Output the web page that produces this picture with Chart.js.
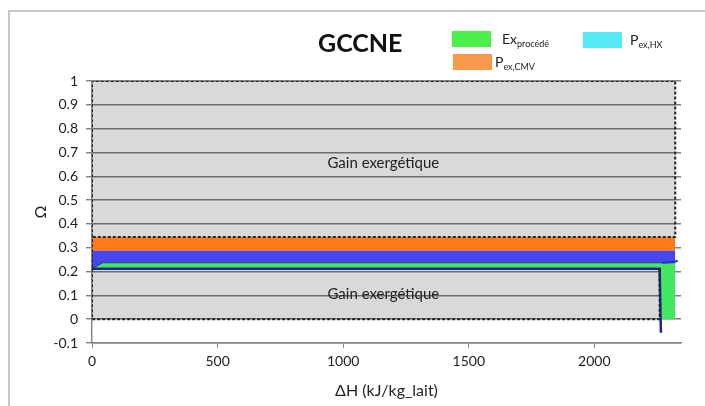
<!DOCTYPE html>
<html>
<head>
<meta charset="utf-8">
<script src="https://cdn.jsdelivr.net/npm/chart.js@4/dist/chart.umd.min.js"></script>
<style>
    body { margin: 0; width: 705px; height: 406px; overflow: hidden; background: #fff; position: relative; font-family: Lato, sans-serif; }
    #frame { position: absolute; left: 8px; top: 10px; width: 720px; height: 420px; border: 2px solid #c8c8c8; }
    #chart { position: absolute; left: 0; top: 0; }
    #title { position: absolute; left: 318px; top: 30px; font-size: 25px; line-height: 25px; font-weight: bold; color: #111; }
    .swatch { position: absolute; width: 39px; height: 16px; }
    .lg { position: absolute; font-size: 14px; line-height: 14px; color: #222; white-space: nowrap; }
    .lg sub { font-size: 9px; vertical-align: -3px; }
</style>
</head>
<body>
<div id="frame"></div>
<canvas id="chart" width="705" height="406"></canvas>
<div id="title">GCCNE</div>
<div id="legend"></div>
<script>
// axis ticks
const xTicks = [0, 500, 1000, 1500, 2000];
const yTicks = [-0.1, 0, 0.1, 0.2, 0.3, 0.4, 0.5, 0.6, 0.7, 0.8, 0.9, 1];

// lower edge of the Ex procédé band (the dark line, then down to 0 on the right)
const exBaseX = [0, 2260, 2262, 2322];
const exBaseY = [0.212, 0.212, 0, 0];
// Ex procédé (top edge)
const exTopX = [0, 43, 2322];
const exTopY = [0.212, 0.237, 0.237];
// P ex,HX (top edge)
const hxX = [0, 2322];
const hxY = [0.287, 0.287];
// P ex,CMV (top edge)
const cmvX = [0, 2322];
const cmvY = [0.345, 0.345];
// dark process line
const lineX = [0, 2260, 2265];
const lineY = [0.212, 0.212, -0.057];
// small blue tail on the right
const tailX = [2270, 2300, 2322, 2332];
const tailY = [0.237, 0.239, 0.242, 0.245];
// "Gain exergétique" box
const gainX = [0, 2322];
const gainY = [1, 1];
const boxX = [2260, 2260, 0, 0, 2322, 2322, 0];
const boxY = [0.212, 0, 0, 1, 1, 0.345, 0.345];

const gainLabels = ['Gain exergétique', 'Gain exergétique'];
const gainLabelX = [1160, 1160];
const gainLabelY = [0.656, 0.106];

// legend entries (main text + subscript)
const legendMain = ['Ex', 'P', 'P'];
const legendSub = ['procédé', 'ex,HX', 'ex,CMV'];
const legendColors = ['#4cee4c', '#52eaf4', '#f89a4e'];
const legendPos = [[452, 31, 502], [583, 32, 630], [453, 54, 495]];

function pts(xs, ys) {
    return xs.map((x, i) => ({ x: x, y: ys[i] }));
}

// build the legend
const legend = document.getElementById('legend');
legendMain.forEach((name, i) => {
    const p = legendPos[i];
    const sw = document.createElement('div');
    sw.className = 'swatch';
    sw.style.left = p[0] + 'px';
    sw.style.top = p[1] + 'px';
    sw.style.background = legendColors[i];
    legend.appendChild(sw);
    const t = document.createElement('div');
    t.className = 'lg';
    t.style.left = p[2] + 'px';
    t.style.top = (p[1] + 1) + 'px';
    t.innerHTML = name + '<sub>' + legendSub[i] + '</sub>';
    legend.appendChild(t);
});

// text inside the grey box
const gainText = {
    id: 'gainText',
    afterDatasetsDraw(chart) {
        const ctx = chart.ctx;
        const xs = chart.scales.x, ys = chart.scales.y;
        ctx.save();
        ctx.font = '15px Lato';
        ctx.fillStyle = '#222';
        ctx.textAlign = 'center';
        ctx.textBaseline = 'middle';
        gainLabels.forEach((t, i) => {
            ctx.fillText(t, xs.getPixelForValue(gainLabelX[i]), ys.getPixelForValue(gainLabelY[i]));
        });
        ctx.restore();
    }
};

const noPoint = { pointRadius: 0, pointHoverRadius: 0, showLine: true, tension: 0 };

new Chart(document.getElementById('chart'), {
    type: 'scatter',
    data: {
        datasets: [
            { ...noPoint, label: 'base', data: pts(exBaseX, exBaseY), borderWidth: 0, fill: false, order: 5 },
            { ...noPoint, label: 'Ex procédé', data: pts(exTopX, exTopY), borderColor: '#1b3a8a', borderWidth: 1,
              backgroundColor: '#42e860', fill: '-1', order: 5 },
            { ...noPoint, label: 'P ex,HX', data: pts(hxX, hxY), borderWidth: 0,
              backgroundColor: '#4a46ef', fill: '-1', order: 5 },
            { ...noPoint, label: 'P ex,CMV', data: pts(cmvX, cmvY), borderWidth: 0,
              backgroundColor: '#ff7b17', fill: '-1', order: 5 },
            { ...noPoint, label: 'line', data: pts(lineX, lineY), borderColor: '#1a2696', borderWidth: 2.5, fill: false, order: 2 },
            { ...noPoint, label: 'tail', data: pts(tailX, tailY), borderColor: '#2234c4', borderWidth: 2, fill: false, order: 2 },
            { ...noPoint, label: 'gain', data: pts(gainX, gainY), borderWidth: 0,
              backgroundColor: 'rgba(0,0,0,0.15)', fill: 'origin', order: 10 },
            { ...noPoint, label: 'box', data: pts(boxX, boxY), borderColor: '#222', borderWidth: 2,
              borderDash: [3, 2], fill: false, order: 1 }
        ]
    },
    options: {
        responsive: false,
        animation: false,
        devicePixelRatio: 1,
        layout: { padding: { left: 27, right: 24, top: 81, bottom: 0 } },
        plugins: {
            legend: { display: false },
            tooltip: { enabled: false },
            title: { display: false }
        },
        scales: {
            x: {
                type: 'linear',
                min: 0,
                max: 2345,
                afterBuildTicks: s => { s.ticks = xTicks.map(v => ({ value: v })); },
                afterFit: s => { s.height = 63; },
                grid: { drawOnChartArea: false, drawTicks: true, tickLength: 5, color: '#888' },
                border: { color: '#888', width: 1.5 },
                ticks: { color: '#222', font: { family: 'Lato', size: 14 }, padding: 5, maxRotation: 0,
                         callback: v => String(v) },
                title: { display: true, text: 'ΔH (kJ/kg_lait)', color: '#222',
                         font: { family: 'Lato', size: 16 }, padding: { top: 2, bottom: 6 } }
            },
            y: {
                min: -0.1,
                max: 1,
                afterBuildTicks: s => { s.ticks = yTicks.map(v => ({ value: v })); },
                afterFit: s => { s.width = 65; },
                grid: { color: '#808080', lineWidth: 1.4, tickLength: 6 },
                border: { color: '#808080', width: 1.4 },
                ticks: { color: '#222', font: { family: 'Lato', size: 14 }, padding: 8,
                         callback: v => String(v) },
                title: { display: true, text: 'Ω', color: '#222',
                         font: { family: 'Lato', size: 16 }, padding: { top: 4, bottom: 4 } }
            }
        }
    },
    plugins: [gainText]
});
</script>
</body>
</html>
